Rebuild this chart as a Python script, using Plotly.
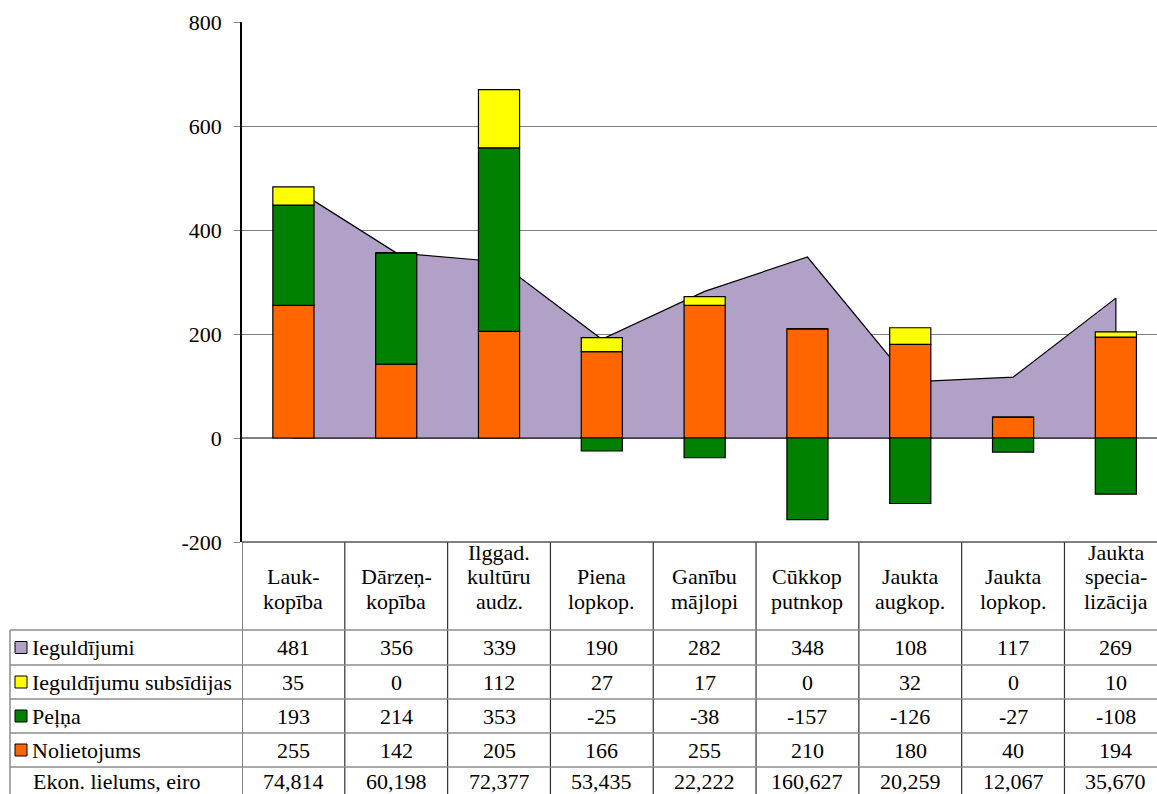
import plotly.graph_objects as go

# ---------------- data ----------------
categories = ["Lauk-<br>kopība", "Dārzeņ-<br>kopība", "Ilggad.<br>kultūru<br>audz.",
              "Piena<br>lopkop.", "Ganību<br>mājlopi", "Cūkkop<br>putnkop",
              "Jaukta<br>augkop.", "Jaukta<br>lopkop.", "Jaukta<br>specia-<br>lizācija"]
ieguldijumi = [481, 356, 339, 190, 282, 348, 108, 117, 269]
subsidijas = [35, 0, 112, 27, 17, 0, 32, 0, 10]
pelna = [193, 214, 353, -25, -38, -157, -126, -27, -108]
nolietojums = [255, 142, 205, 166, 255, 210, 180, 40, 194]
ekon_lielums = [74814, 60198, 72377, 53435, 22222, 160627, 20259, 12067, 35670]

series_names = ["Ieguldījumi", "Ieguldījumu subsīdijas", "Peļņa", "Nolietojums"]
series_colors = ["#B2A1C7", "#FFFF00", "#008000", "#FF6600"]
ekon_label = "Ekon. lielums, eiro"
y_ticks = [-200, 0, 200, 400, 600, 800]
y_ticktext = ["-200", "0", "200", "400", "600", "800"]

FONT = "Liberation Serif, Times New Roman, DejaVu Serif, serif"
FS = 22
W, H = 1157, 794
ML, MR, MT, MB = 242, 0, 22, 252
PW = W - ML - MR
PH = H - MT - MB

def px_x(px):
    return (px - ML) / PW

def px_y(py):
    return (H - MB - py) / PH

xs = list(range(len(categories)))

fig = go.Figure()

# area (behind bars) on base axes
area_x = [xs[0]] + xs + [xs[-1], xs[0]]
area_y = [0] + ieguldijumi + [0, 0]
fig.add_trace(go.Scatter(x=area_x, y=area_y, mode="lines", fill="toself",
                         fillcolor=series_colors[0], line=dict(color="black", width=1.2),
                         name=series_names[0], hoverinfo="skip", xaxis="x", yaxis="y"))

# stacked bars on overlay axes
for vals, name, col in [(nolietojums, series_names[3], series_colors[3]),
                        (pelna, series_names[2], series_colors[2]),
                        (subsidijas, series_names[1], series_colors[1])]:
    fig.add_trace(go.Bar(x=xs, y=vals, name=name, width=0.4,
                         marker=dict(color=col, line=dict(color="black", width=1.2)),
                         xaxis="x2", yaxis="y2"))

xr = [-0.5, 8.4]
yr = [-200, 800]

shapes = []
annotations = []

header_top = 542
row_edges = [630, 665, 699, 733, 767, 801]
line_h = "#8C8C8C"
line_v = "#303030"

for i in range(len(categories) + 1):
    shapes.append(dict(type="line", xref="x", yref="paper", x0=i - 0.5, x1=i - 0.5,
                       y0=px_y(header_top), y1=px_y(H + 5), line=dict(color=line_v, width=1.2)))
for r in row_edges[:-1]:
    shapes.append(dict(type="line", xref="paper", yref="paper", x0=px_x(10), x1=1.0,
                       y0=px_y(r), y1=px_y(r), line=dict(color=line_h, width=1.5)))
shapes.append(dict(type="line", xref="paper", yref="paper", x0=px_x(10), x1=px_x(10),
                   y0=px_y(630), y1=px_y(H + 5), line=dict(color=line_h, width=1.5)))
shapes.append(dict(type="line", xref="paper", yref="paper", x0=0, x1=1.0,
                   y0=0, y1=0, line=dict(color="#555555", width=1.5)))

txtfont = dict(family=FONT, size=FS, color="black")

# header text: one annotation per line, bottom-aligned, tighter line pitch
LINE_PITCH = 24.5
LAST_LINE_Y = 601
for i, c in enumerate(categories):
    lines = c.split("<br>")
    n = len(lines)
    for k, ln in enumerate(lines):
        yc = LAST_LINE_Y - (n - 1 - k) * LINE_PITCH
        annotations.append(dict(x=i, y=px_y(yc), xref="x", yref="paper", text=ln,
                                showarrow=False, xanchor="center", yanchor="middle", font=txtfont))

table_rows = [ieguldijumi, subsidijas, pelna, nolietojums]
for r, (vals, name, col) in enumerate(zip(table_rows, series_names, series_colors)):
    yc = (row_edges[r] + row_edges[r + 1]) / 2
    shapes.append(dict(type="rect", xref="paper", yref="paper", x0=px_x(15), x1=px_x(27),
                       y0=px_y(yc - 6), y1=px_y(yc + 6), fillcolor=col,
                       line=dict(color="black", width=1)))
    annotations.append(dict(x=px_x(30), y=px_y(yc), xref="paper", yref="paper", text=name,
                            showarrow=False, xanchor="left", yanchor="middle", font=txtfont))
    for i, v in enumerate(vals):
        annotations.append(dict(x=i, y=px_y(yc), xref="x", yref="paper", text=str(v),
                                showarrow=False, xanchor="center", yanchor="middle", font=txtfont))
yc = 781
annotations.append(dict(x=px_x(31), y=px_y(yc), xref="paper", yref="paper", text=ekon_label,
                        showarrow=False, xanchor="left", yanchor="middle", font=txtfont))
for i, v in enumerate(ekon_lielums):
    annotations.append(dict(x=i, y=px_y(yc), xref="x", yref="paper", text=f"{v:,}",
                            showarrow=False, xanchor="center", yanchor="middle", font=txtfont))

fig.update_layout(
    width=W, height=H,
    margin=dict(l=ML, r=MR, t=MT, b=MB, pad=0),
    paper_bgcolor="white", plot_bgcolor="white",
    barmode="relative",
    showlegend=False,
    font=txtfont,
    xaxis=dict(range=xr, showgrid=False, zeroline=False, showticklabels=False,
               showline=False, ticks=""),
    yaxis=dict(range=yr, tickvals=y_ticks, ticktext=y_ticktext,
               showgrid=True, gridcolor="#808080", gridwidth=1.2,
               zeroline=True, zerolinecolor="#808080", zerolinewidth=1.5,
               showline=True, linecolor="black", linewidth=1.5,
               ticks="outside", ticklen=6, tickcolor="#808080", tickwidth=1.2,
               ticklabelstandoff=8, tickfont=txtfont),
    xaxis2=dict(range=xr, overlaying="x", visible=False),
    yaxis2=dict(range=yr, overlaying="y", visible=False),
    shapes=shapes,
    annotations=annotations,
)

fig.write_html("out.html", config={"displayModeBar": False},
               post_script="document.body.style.margin='0';document.body.style.overflow='hidden';")
